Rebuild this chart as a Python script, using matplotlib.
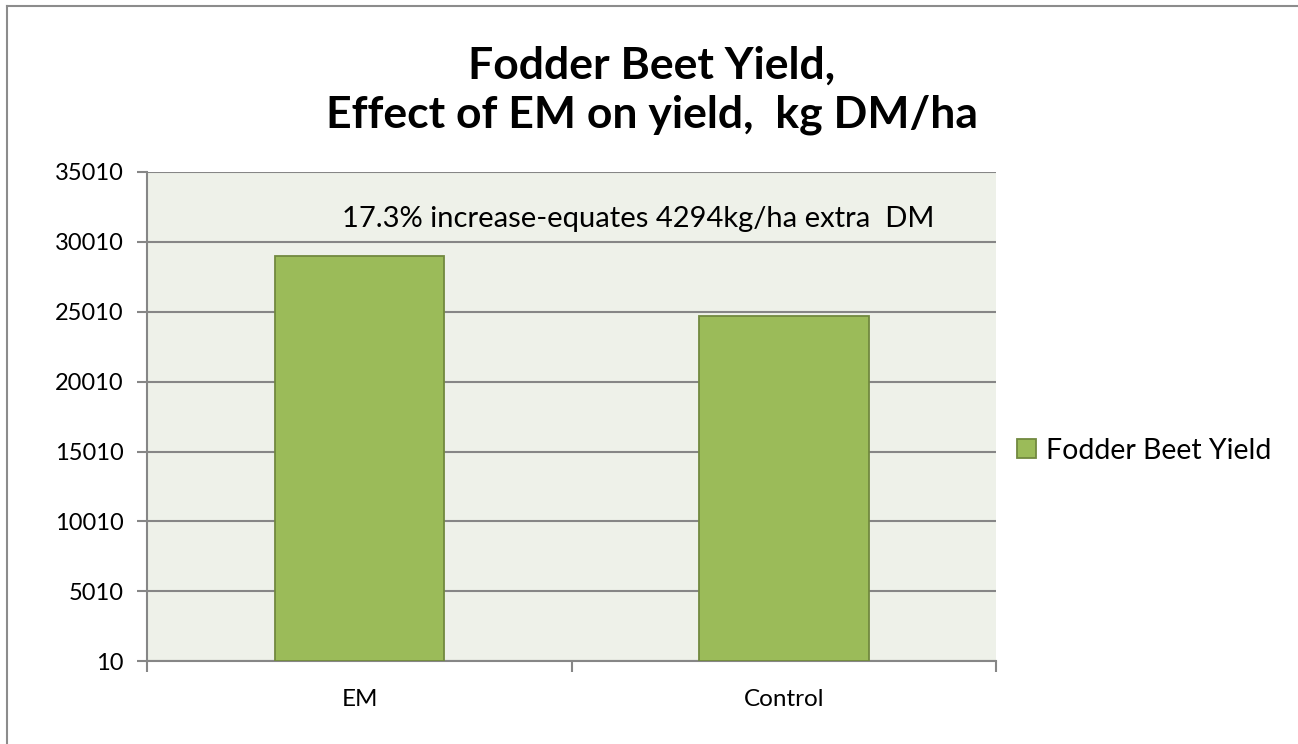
import matplotlib.pyplot as plt
from matplotlib.lines import Line2D
import numpy as np

plt.rcParams["font.family"] = ["Lato", "DejaVu Sans"]

# Data
categories = ["EM", "Control"]
yields = [28990, 24700]
series_name = "Fodder Beet Yield"
y_ticks = [10, 5010, 10010, 15010, 20010, 25010, 30010, 35010]
title = "Fodder Beet Yield,\nEffect of EM on yield,  kg DM/ha"
note = "17.3% increase-equates 4294kg/ha extra  DM"

bar_color = "#9BBB59"
edge_color = "#71893F"
grid_color = "#868686"

fig = plt.figure(figsize=(12.98, 7.44), dpi=100)
ax = fig.add_axes([0.1136, 0.1111, 0.6537, 0.6581])
ax.set_facecolor("#EEF1E9")

x = np.arange(len(categories))
ax.bar(x, yields, width=0.4, color=bar_color, edgecolor=edge_color,
       linewidth=1.3, label=series_name, zorder=3)

# Axis limits and ticks
ax.set_xlim(-0.5, len(categories) - 0.5)
ax.set_ylim(y_ticks[0], y_ticks[-1])
ax.set_yticks(y_ticks)
ax.set_yticklabels([str(t) for t in y_ticks], fontsize=17)
ax.set_xticks(x)
ax.set_xticklabels(categories, fontsize=17.5)
ax.tick_params(axis="x", which="major", length=0, pad=20)
ax.set_xticks(np.arange(-0.5, len(categories)), minor=True)
ax.tick_params(axis="x", which="minor", length=8, width=1.5, color=grid_color)
ax.tick_params(axis="y", length=7, width=1.5, color=grid_color, pad=10)

ax.grid(axis="y", color=grid_color, linewidth=1.5, zorder=0)
for side in ["top", "right"]:
    ax.spines[side].set_visible(False)
for side in ["left", "bottom"]:
    ax.spines[side].set_color(grid_color)
    ax.spines[side].set_linewidth(1.5)

# Annotation inside the plot
ax.text(0.578, 0.903, note, transform=ax.transAxes, ha="center", va="center",
        fontsize=21)

# Title
fig.text(0.502, 0.879, title, ha="center", va="center", fontsize=32,
         fontweight="bold", linespacing=1.27)

# Legend
ax.legend(loc="center left", bbox_to_anchor=(0.995, 0.43), frameon=False,
          fontsize=20.5, handlelength=0.65, handleheight=0.65, handletextpad=0.35)

# Chart-area border (top and left edges visible)
fig.add_artist(Line2D([7 / 1298, 7 / 1298], [0, 1 - 6 / 744],
                      transform=fig.transFigure, color="#8C8C8C", linewidth=1.5))
fig.add_artist(Line2D([7 / 1298, 1], [1 - 6 / 744, 1 - 6 / 744],
                      transform=fig.transFigure, color="#8C8C8C", linewidth=1.5))

fig.savefig("out.png", dpi=100)
